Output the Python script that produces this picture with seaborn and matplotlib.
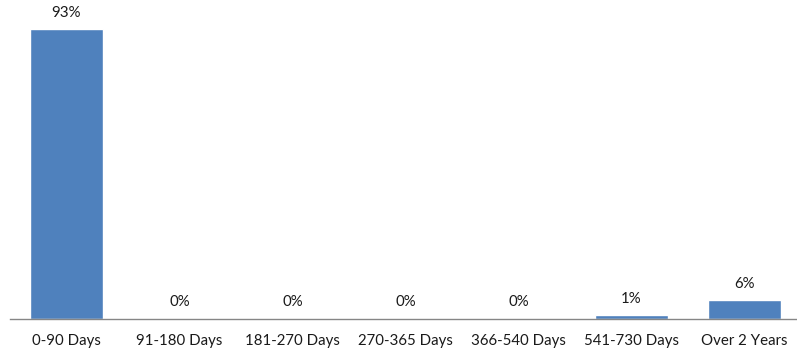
import matplotlib
matplotlib.use("Agg")
import matplotlib.pyplot as plt
import seaborn as sns
import pandas as pd
import numpy as np

categories = ["0-90 Days", "91-180 Days", "181-270 Days", "270-365 Days",
              "366-540 Days", "541-730 Days", "Over 2 Years"]
values = [93, 0, 0, 0, 0, 1, 6]
labels = ["93%", "0%", "0%", "0%", "0%", "1%", "6%"]

sns.set_style("white")
plt.rcParams['font.family'] = ['Lato', 'DejaVu Sans']

df = pd.DataFrame({"cat": categories, "val": values})

fig = plt.figure(figsize=(7.97, 3.5), dpi=100)
W, H = 797, 350
ax = fig.add_axes([10 / W, (H - 318.5) / H, 791 / W, 311 / H])
sns.barplot(data=df, x="cat", y="val", color="#4F81BD", width=0.65,
            saturation=1, ax=ax)
for p, lab in zip(ax.patches, labels):
    ax.annotate(lab, (p.get_x() + p.get_width() / 2, p.get_height()),
                xytext=(0, 6.5), textcoords="offset points",
                ha="center", va="bottom", fontsize=10.8, color="#1a1a1a")

ax.set_xlim(-0.5, 6.5)
ax.set_ylim(0, 100)
ax.set_yticks([])
ax.set_xlabel("")
ax.set_ylabel("")
for s in ["top", "right", "left"]:
    ax.spines[s].set_visible(False)
ax.spines["bottom"].set_color("#868686")
ax.spines["bottom"].set_linewidth(1)
ax.set_xticks(np.arange(len(categories)))
ax.set_xticklabels(categories, fontsize=10.8, color="#1a1a1a")
ax.tick_params(axis="x", which="major", length=0, pad=11)
ax.set_xticks(np.arange(len(categories) + 1) - 0.5, minor=True)
ax.tick_params(axis="x", which="minor", length=5, color="#868686", width=1)

fig.savefig("out.png", dpi=100)
